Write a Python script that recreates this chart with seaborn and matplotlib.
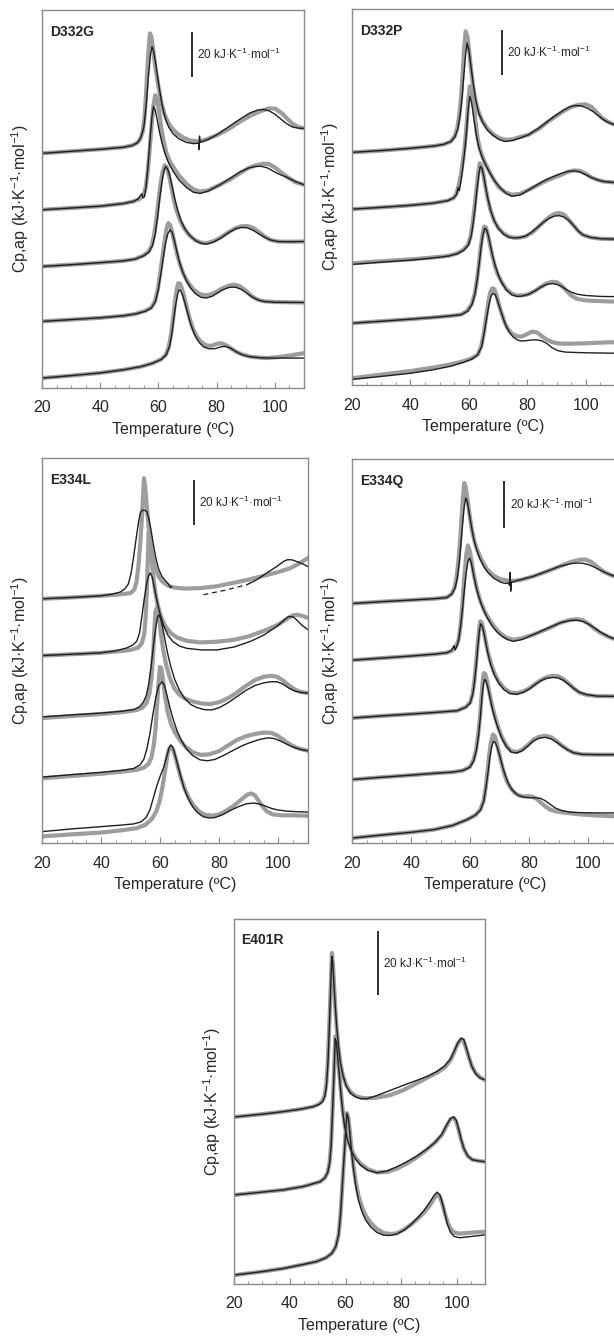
import seaborn as sns
import numpy as np
import pandas as pd
import matplotlib.pyplot as plt
from matplotlib.ticker import MultipleLocator

sns.set_style("white")
plt.rcParams["font.family"] = ["Liberation Sans", "DejaVu Sans"]
plt.rcParams["mathtext.fontset"] = "custom"
plt.rcParams["mathtext.rm"] = "Liberation Sans"
plt.rcParams["mathtext.it"] = "Liberation Sans:italic"
plt.rcParams["mathtext.bf"] = "Liberation Sans:bold"

# %% thermograms: (temperature degC, Cp,ap kJ/K/mol incl. vertical offset)
d332g_data = [
    [(20, 104.3), (30, 105.2), (40, 106.1), (48, 107), (51, 107.8), (52.8, 109), (53.8, 110.8), (54.6, 114), (55.2, 120), (55.7, 130), (56.2, 142), (56.7, 152), (57.1, 157.6), (57.6, 156), (58.2, 150), (59, 142), (60, 134), (61, 127), (62, 122), (63.3, 118), (64.6, 115.5), (66.5, 113), (68.5, 111.3), (71, 110), (73.5, 109.6), (76, 110.2), (80, 112.3), (84, 115), (88, 118.4), (92, 121.3), (95, 123), (98, 124.3), (100, 124.2), (102.5, 122), (104.5, 119.3), (106.5, 117), (108.5, 115.8), (110, 115.4)],
    [(20, 79.2), (30, 80), (40, 80.8), (48, 82), (51.4, 82.9), (53.5, 84), (54.8, 85.5), (55.6, 89), (56.3, 96), (57, 106), (57.6, 116), (58.2, 125), (58.9, 130.2), (59.5, 128.5), (60.2, 123), (61, 115.5), (61.7, 110.3), (62.6, 105), (63.8, 101), (65.1, 98.2), (67, 94.5), (69.7, 90.6), (72, 88.3), (74.3, 87.3), (77, 87.8), (81.1, 90.3), (85, 93), (88, 95.5), (91, 97.8), (93.5, 99), (96, 99.7), (98, 99.5), (100, 98), (102, 96), (104, 94), (107, 91.5), (110, 90.3)],
    [(20, 54), (30, 54.8), (40, 55.7), (48, 56.5), (52, 57.3), (55, 59), (56.5, 60.5), (57.6, 63), (58.5, 68), (59.3, 75), (60, 83), (60.7, 90.5), (61.4, 96), (62.2, 99), (62.9, 98), (63.6, 94.5), (64.4, 89.5), (65.2, 84), (66.2, 79), (67.4, 74.5), (68.8, 71), (70.5, 68), (72.5, 65.8), (74.5, 64.6), (76.6, 64.4), (79, 65.3), (81.5, 67), (84, 69.2), (86.5, 71), (88.5, 71.9), (90.5, 72), (92.5, 71.2), (94.5, 69.3), (96.5, 67.3), (98.5, 65.8), (101, 65.1), (105, 65), (110, 65.1)],
    [(20, 29.6), (30, 30.4), (40, 31.2), (48, 32.1), (52, 32.9), (55.5, 34.3), (57.5, 35.7), (58.8, 38.5), (59.8, 44), (60.6, 51), (61.4, 58.5), (62.2, 66), (62.8, 71), (63.4, 73.3), (64.1, 72.2), (64.8, 68.8), (65.6, 64), (66.5, 59), (67.5, 54.5), (68.7, 50.3), (70.2, 46.8), (72, 43.8), (74, 41.8), (76, 41.2), (78, 41.6), (80, 42.8), (82, 44.3), (84, 45.4), (86, 46), (88, 45.2), (90, 43.3), (92, 40.8), (94, 39.3), (96, 38.6), (100, 38.2), (110, 38)],
    [(20, 4.4), (30, 5.5), (40, 6.7), (48, 8.1), (54, 9.5), (58, 11), (61, 12.8), (62.5, 14.7), (63.5, 18), (64.3, 23.5), (65, 30.5), (65.7, 38.5), (66.3, 44), (66.8, 46.6), (67.4, 46.4), (68, 44.5), (68.8, 40.8), (69.7, 36), (70.7, 31), (71.8, 26.5), (73.1, 23), (74.6, 20.5), (76.2, 19), (78, 18.7), (80, 19.6), (81.6, 19.9), (83, 19.2), (84.6, 17.9), (86.5, 16.2), (89, 14.8), (92, 13.8), (97, 13.3), (101, 13.7), (105, 14.4), (110, 15.5)],
]
d332g_fit = [
    [(20, 104.3), (30, 105.2), (40, 106.1), (48, 107), (51, 107.8), (52.8, 109), (54, 111.5), (55, 116), (55.8, 126), (56.6, 139), (57.3, 148.5), (57.8, 151.7), (58.4, 149.5), (59.2, 143), (60.2, 134), (61.2, 126), (62.3, 120), (63.5, 116), (65, 113), (67, 110.8), (69.5, 109.2), (72, 108.6), (73.8, 108.8), (73.9, 106), (74.1, 112), (74.3, 109.2), (77, 110.5), (80, 112.5), (84, 116), (88, 119.5), (91.5, 122.3), (94, 123.5), (96, 123.8), (98, 123.2), (100, 121.7), (102, 119.6), (104, 117.5), (106, 116), (108, 115.5), (110, 115.4)],
    [(20, 79.2), (30, 80), (40, 80.8), (48, 82), (51.4, 82.9), (53, 84), (53.8, 85.5), (54.3, 86.3), (54.7, 84.5), (55.2, 85), (55.8, 90), (56.5, 100), (57.2, 112), (57.8, 121), (58.3, 125), (58.9, 123.5), (59.6, 119), (60.4, 113.5), (61.3, 108.5), (62.3, 104), (63.5, 100), (65.1, 96.2), (67, 92.5), (69.7, 89), (72, 87), (74.3, 86.5), (77, 87.5), (81.1, 90.3), (85, 93.5), (88, 96), (91, 97.8), (93.5, 98.5), (95.5, 98.5), (97.5, 97.8), (99.5, 96.3), (101.5, 95), (104, 93.7), (107, 91.8), (110, 90.3)],
    [(20, 54), (30, 54.8), (40, 55.7), (48, 56.5), (52, 57.3), (55, 58.8), (56.8, 60.5), (58, 63.5), (58.9, 68.5), (59.7, 76), (60.5, 85), (61.3, 92.5), (62, 97), (62.5, 98.4), (63.2, 97.2), (64, 93.8), (64.8, 89), (65.7, 83.5), (66.7, 78.5), (67.8, 74.2), (69.2, 70.5), (71, 67.5), (73, 65.3), (75, 64.2), (76.6, 64), (79, 64.9), (81.5, 66.7), (84, 69), (86.5, 70.8), (88.5, 71.4), (90.5, 71.2), (92.5, 70.1), (94.5, 68.5), (96.5, 67), (98.5, 65.8), (101, 65.1), (105, 65), (110, 65.1)],
    [(20, 29.6), (30, 30.4), (40, 31.2), (48, 32.1), (52, 32.9), (55.5, 34.1), (57.5, 35.5), (59, 38.5), (60, 44), (60.8, 50.5), (61.6, 57.5), (62.4, 64), (63.2, 68.5), (64, 70.3), (64.7, 69.2), (65.4, 66), (66.2, 61.5), (67.1, 56.5), (68.2, 52), (69.5, 48), (71, 44.5), (72.8, 41.8), (74.6, 40.3), (76.5, 40), (78.5, 40.8), (80.5, 42.4), (82.5, 43.9), (84.5, 44.8), (86.5, 44.8), (88.5, 43.8), (90.5, 42), (92.5, 40.2), (94.5, 39), (96.5, 38.4), (100, 38.1), (110, 38)],
    [(20, 4.4), (30, 5.5), (40, 6.7), (48, 8.1), (54, 9.5), (58, 11), (61, 12.7), (62.7, 14.8), (63.8, 18.5), (64.6, 24), (65.3, 31), (66, 37.5), (66.6, 41.8), (67.1, 43.7), (67.7, 43.1), (68.4, 40.8), (69.2, 37.3), (70.2, 32.5), (71.3, 27.5), (72.5, 23.5), (74, 20.2), (75.6, 18.2), (77.5, 17.4), (79.5, 17.5), (81.5, 18.3), (83, 18.5), (84.6, 17.8), (86.5, 16.3), (88.5, 14.9), (91, 14), (95, 13.4), (100, 13.3), (110, 13.3)],
]

d332p_data = [
    [(20, 103.2), (30, 104), (40, 105), (48, 106), (51.5, 106.8), (53.8, 108), (55.2, 110.5), (56, 114), (56.7, 119.5), (57.3, 127), (57.8, 137), (58.3, 148), (58.9, 156.9), (59.5, 154.5), (60.1, 148), (60.7, 140.5), (61.4, 133), (62.2, 126.5), (63.2, 121.5), (64.5, 117.5), (66.2, 114), (68.2, 111.3), (70.5, 109.5), (72.5, 108.8), (75, 109), (78, 110.2), (80.4, 111), (84, 113.7), (87, 116.8), (89.6, 119.1), (92.5, 121.6), (95, 123.3), (97.5, 124.3), (100, 124.5), (102, 123.3), (103.8, 120.8), (105.5, 118.5), (107.5, 116.8), (110, 115.4)],
    [(20, 78), (30, 78.8), (40, 79.7), (48, 80.7), (52.8, 81.8), (54.8, 83), (55.8, 85), (56.5, 88.5), (57.3, 93.5), (58, 100), (58.6, 106), (59.2, 115), (59.8, 126), (60.3, 132.5), (60.9, 131), (61.5, 126), (62.2, 117.5), (62.9, 110), (63.8, 104.5), (65, 100), (66.5, 96), (68.3, 91.5), (70.1, 88), (72.3, 85.6), (74.7, 84.4), (77.5, 84.8), (80, 86.3), (82.7, 88.1), (86, 90.3), (89, 92), (91.9, 93.4), (94, 94.6), (96, 95.2), (98, 95), (100, 93.7), (102, 92), (104, 91), (106, 90.3), (110, 89.8)],
    [(20, 54), (30, 54.9), (40, 55.7), (48, 56.6), (53, 57.3), (56, 58.4), (58.2, 60), (59.7, 62.3), (60.6, 66), (61.3, 72), (62, 79.5), (62.6, 87), (63.2, 94), (63.7, 98.4), (64.3, 97.5), (64.9, 94), (65.6, 88.5), (66.4, 83), (67.4, 77.5), (68.6, 73), (70, 69.8), (71.8, 67.3), (73.5, 65.9), (75.5, 65.3), (77.5, 65.4), (79.3, 65.9), (81.5, 67.5), (83.5, 69.8), (85.5, 72.3), (87.5, 74.5), (89.5, 76), (91, 76.3), (92.5, 75.6), (94.2, 73.3), (96, 70.5), (97.5, 68.2), (99, 66.6), (101.5, 65.5), (105, 64.9), (110, 64.7)],
    [(20, 27.4), (30, 28.3), (40, 29.2), (48, 30), (54, 30.7), (57.4, 31.3), (59.5, 33), (61, 36), (62, 40.5), (62.8, 47), (63.5, 54.5), (64.1, 61.5), (64.7, 67), (65.2, 70.3), (65.8, 70), (66.4, 67.5), (67.1, 63), (67.9, 58), (68.8, 53.3), (69.9, 49), (71.2, 45.7), (72.8, 42.6), (74.7, 40.5), (76.5, 39.7), (78.5, 39.8), (80.4, 40.3), (82.5, 41.6), (84.5, 43.4), (86.5, 45), (88.5, 45.8), (90.2, 45.5), (91.8, 44), (93.4, 41.8), (95, 39.7), (97, 38.2), (100, 37.5), (105, 37.2), (110, 37)],
    [(20, 3), (30, 4.6), (40, 6.2), (48, 7.8), (54, 9.2), (58, 10.5), (61, 11.8), (63, 13.5), (64.2, 17), (65.1, 23), (65.9, 30), (66.6, 36.5), (67.3, 41), (68, 42.9), (68.7, 42.5), (69.4, 40), (70.2, 36), (71.2, 31.8), (72.3, 27.5), (73.5, 24.5), (75, 22.5), (76.6, 21.6), (78.1, 21.5), (79.8, 22.5), (81.6, 23.7), (83.3, 23.3), (85, 21.6), (86.8, 20), (88.5, 19), (91, 18.4), (95, 18.3), (100, 18.5), (105, 18.8), (110, 19)],
]
d332p_fit = [
    [(20, 103.2), (30, 104), (40, 105), (48, 106), (51.5, 106.8), (53.8, 108), (55.2, 110), (56.2, 113.5), (57, 119.5), (57.7, 128), (58.3, 138), (58.9, 147), (59.4, 151.7), (60, 148.5), (60.7, 141.5), (61.5, 133.5), (62.4, 126), (63.4, 120.5), (64.7, 116.5), (66.4, 113), (68.5, 110.5), (70.5, 108.8), (72.4, 108), (75, 108.5), (78, 109.8), (80.4, 111), (84, 114), (87, 117), (89.6, 119.5), (92.5, 122), (94.5, 123.4), (96.5, 124), (98.5, 123.8), (100.5, 122.8), (102.5, 121.3), (104.5, 119.3), (106.5, 117.3), (108.5, 116), (110, 115.4)],
    [(20, 78), (30, 78.8), (40, 79.7), (48, 80.7), (52.8, 81.8), (54.8, 83), (55.8, 84.5), (56.3, 87.5), (56.7, 86.2), (57.3, 90.5), (58, 97.5), (58.6, 104), (59.2, 112.5), (59.8, 122.5), (60.3, 128), (60.9, 125.5), (61.6, 119), (62.4, 112), (63.3, 106), (64.4, 101.5), (65.6, 98), (67.2, 94), (69, 90.2), (70.8, 87.3), (72.8, 85), (74.7, 83.7), (77.5, 84.3), (80, 86.2), (82.7, 88.3), (86, 90.8), (89, 92.5), (91.9, 94), (94, 94.8), (96, 95), (98, 94.5), (100, 93.3), (102, 92), (104, 91), (106, 90.3), (110, 89.8)],
    [(20, 53.5), (30, 54.5), (40, 55.4), (48, 56.4), (53, 57.2), (56, 58.2), (58.2, 59.8), (59.8, 62), (60.8, 66), (61.5, 72), (62.2, 79.5), (62.8, 87), (63.4, 93.5), (63.9, 97), (64.5, 96), (65.1, 92.5), (65.8, 87.3), (66.6, 82), (67.6, 76.8), (68.8, 72.5), (70.2, 69.3), (72, 66.8), (73.8, 65.5), (75.8, 65.2), (77.7, 65.5), (79.5, 66.1), (81.5, 67.8), (83.5, 70), (85.5, 72.2), (87.5, 74), (89.5, 75), (91, 75.1), (92.5, 74.5), (94.2, 73), (96, 70.5), (97.5, 68.2), (99, 66.6), (101.5, 65.5), (105, 64.9), (110, 64.7)],
    [(20, 27.4), (30, 28.3), (40, 29.2), (48, 30), (54, 30.7), (57.4, 31.2), (59.6, 32.8), (61.1, 35.8), (62.1, 40.5), (62.9, 47), (63.6, 54.5), (64.2, 61.5), (64.8, 66.5), (65.4, 69.5), (66, 69), (66.6, 66.5), (67.3, 62.3), (68.1, 57.5), (69, 53), (70, 49), (71.2, 45.5), (72.8, 42.2), (74.7, 40), (76.5, 39.3), (78.5, 39.5), (80.4, 40.2), (82.5, 41.7), (84.5, 43.3), (86.5, 44.6), (88.5, 45), (90.2, 44.6), (91.8, 43.6), (93.4, 42.3), (95, 41.2), (97, 40.3), (100, 39.7), (105, 39.3), (110, 39.2)],
    [(20, 2.5), (30, 3.8), (40, 5.2), (48, 6.8), (54, 8.4), (58, 10), (61, 11.5), (63, 13.3), (64.4, 17.2), (65.3, 23.5), (66.1, 30), (66.9, 35.8), (67.6, 39.5), (68.3, 40.7), (69, 40), (69.7, 37.8), (70.5, 34.5), (71.5, 30.5), (72.6, 26.5), (73.8, 23.5), (75.2, 21.2), (76.7, 19.9), (78.1, 19.5), (79.8, 19.7), (81.6, 20), (83.3, 20), (85, 19.6), (86.8, 18.3), (88.5, 16.5), (90.5, 15.2), (93, 14.6), (97, 14.4), (100, 14.3), (110, 14.1)],
]

e334l_data = [
    [(20, 107.5), (30, 108.1), (39.7, 108.8), (46, 109.4), (49.9, 110), (51.2, 111.5), (52, 115), (52.7, 123), (53.3, 133), (53.8, 143), (54.2, 153), (54.5, 160.6), (54.9, 157), (55.5, 147.5), (56.1, 139), (56.8, 131), (57.6, 125), (58.5, 120.3), (59.6, 117), (60.8, 115), (62.5, 113.4), (64.5, 112.5), (68, 112), (73.5, 112.2), (79, 113), (84.7, 114.5), (90, 116), (96.1, 118), (100, 119.3), (104, 121), (107, 123), (110, 125.5)],
    [(20, 82.5), (30, 83.1), (39.7, 83.7), (46, 84.4), (50, 85), (52.5, 86), (53.8, 88), (54.6, 92), (55.1, 100), (55.5, 112), (55.8, 125), (56.1, 137), (56.5, 133), (57, 126), (57.6, 118), (58.3, 110.5), (59.2, 104.5), (60.3, 99.5), (61.7, 95.5), (63.5, 92.5), (65.6, 90.5), (69, 89), (73.5, 88.3), (79, 88.6), (84.7, 89.4), (90, 91), (96.1, 93.9), (100, 96.2), (103, 98.8), (105, 100.3), (106.5, 100.5), (108, 100), (110, 99.1)],
    [(20, 55), (30, 55.9), (40, 56.8), (47, 57.6), (52, 58.5), (54, 59.6), (55.3, 61.5), (56.3, 65.5), (57, 72), (57.6, 83), (58, 94), (58.4, 102), (59, 104), (59.6, 99), (60.2, 92.5), (61, 85), (62, 78.5), (63.3, 72.5), (64.8, 68), (66.5, 65.3), (68.5, 63.5), (71, 62.3), (74, 61.4), (77, 61.2), (80, 62), (83, 63.8), (86, 66.3), (89, 69.2), (92, 71.7), (95, 73.2), (97.5, 73.6), (99.5, 73.2), (101.5, 71.6), (103.5, 69.4), (105.5, 67.6), (107.5, 66.5), (110, 66)],
    [(20, 28.5), (30, 29.5), (40, 30.5), (47, 31.4), (52, 32.2), (54.5, 33.2), (56, 34.8), (57, 37.5), (57.8, 43), (58.4, 50), (58.9, 60), (59.4, 70), (59.9, 77.5), (60.4, 77), (61, 71), (61.7, 64), (62.5, 58), (63.5, 53), (64.8, 49), (66.5, 45.5), (68.5, 42.4), (71, 40), (73.5, 38.8), (76.5, 39), (80, 40.5), (83, 43), (86, 45.4), (89, 47), (92, 48), (95, 48.6), (97.5, 48.5), (99.5, 47.4), (101.5, 45.6), (103.5, 43.7), (106, 42), (108, 41.2), (110, 40.6)],
    [(20, 2.9), (30, 3.8), (40, 4.6), (47, 5.6), (52, 6.5), (55, 8), (57.2, 10.6), (58.7, 14), (59.8, 18.5), (60.6, 23.5), (61.3, 29), (61.9, 34), (62.4, 38.5), (63, 41.5), (63.7, 42.2), (64.4, 41), (65.2, 37.5), (66.1, 33), (67.1, 28.3), (68.3, 23.8), (69.7, 19.8), (71.3, 16.5), (73, 14), (75, 12.5), (77.5, 12), (80, 12.6), (82.5, 14.3), (85, 16.5), (87.5, 19.2), (89.5, 21.3), (90.8, 21.8), (92, 21), (93.2, 18.8), (94.5, 16.2), (96, 14), (98, 12.6), (101, 12.2), (105, 12.2), (110, 12)],
]
e334l_fit = [
    [(20, 107.5), (30, 108.1), (39.7, 108.8), (44, 109.6), (46.5, 110.5), (48, 111.8), (49.2, 114), (50.1, 118.5), (51, 126), (51.9, 134.5), (52.7, 141.5), (53.3, 145.5), (54, 146.5), (54.8, 146.5), (55.5, 145.8), (56.1, 143), (56.8, 138.5), (57.6, 132), (58.5, 125.5), (59.5, 120.5), (60.6, 117.3), (61.7, 115.6), (62.8, 114), (63.4, 112.5), (63.9, 112.9)],
    [(89.3, 113.7), (92.5, 115.8), (96.1, 118.9), (99.5, 121.8), (101.8, 124), (103, 124.7), (104.5, 124.7), (106, 124), (108, 123), (110, 121.7)],
    [(20, 82.5), (30, 83.1), (39.7, 83.7), (45, 84.6), (48.7, 85.9), (50.8, 87.2), (52.1, 88.9), (53, 92.5), (53.8, 99.7), (54.6, 107.5), (55.4, 114), (56, 117.5), (56.6, 118.9), (57.3, 117), (58.1, 112), (59, 106), (60, 100.5), (61.2, 95.5), (62.6, 91.5), (64.3, 88.7), (66.5, 86.7), (69, 85.7), (74, 85), (79.2, 85), (85, 86.3), (90.4, 88.7), (95, 91.5), (99.4, 95.3), (101.8, 98), (103.4, 99.7), (105, 99.5), (106.5, 97.8), (108, 95.8), (110, 93.9)],
    [(20, 55.5), (30, 56.4), (40, 57.2), (47, 58), (51, 58.7), (53, 60), (54.3, 62), (55.3, 65), (56.1, 70), (56.9, 77.5), (57.7, 87), (58.5, 95), (59.1, 99.5), (59.5, 100.5), (60.1, 99), (60.8, 95), (61.6, 89.5), (62.5, 83.5), (63.6, 77.5), (64.9, 72), (66.4, 67.5), (68.2, 63.8), (70.3, 61), (72.5, 59.6), (75, 58.7), (77.5, 58.6), (80, 59.6), (83, 61.8), (86, 64.5), (89, 67.2), (92, 69.3), (95, 70.5), (97.5, 71), (99.5, 71), (101.5, 70), (103.5, 68.2), (105.5, 66.9), (107.5, 66.3), (110, 66)],
    [(20, 29), (30, 30.1), (40, 31.1), (47, 32), (51, 32.8), (53.2, 34.4), (54.5, 37), (55.5, 41.5), (56.5, 48), (57.5, 56.5), (58.5, 64), (59.5, 69.3), (60.6, 71), (61.4, 69.5), (62.3, 65), (63.3, 59.5), (64.5, 54), (65.8, 49), (67.3, 44.8), (69, 41.2), (71, 38.5), (73.5, 36.6), (76, 36.2), (78.5, 36.8), (81.5, 38.6), (85, 41), (88, 43), (91, 44.5), (94, 45.7), (96.5, 46.3), (98.5, 46), (100.5, 45), (102.8, 43.5), (105, 42.2), (107.5, 41.2), (110, 40.6)],
    [(20, 5), (30, 6.2), (40, 7.2), (47, 7.9), (51, 8.4), (53.5, 9.3), (55.2, 11.2), (56.5, 14.5), (57.6, 19.5), (58.8, 25), (60, 29.5), (61.2, 33.5), (62.3, 38.5), (63, 42), (63.6, 43.2), (64.3, 42), (65.1, 38.5), (66, 34), (67, 29), (68.1, 24), (69.4, 19.8), (70.8, 16.3), (72.5, 13.5), (74.5, 11.6), (76.5, 11), (78.5, 11.2), (81, 12.4), (83.7, 14.3), (86.5, 16), (89, 17.2), (91.5, 17.6), (93.5, 17.2), (95.5, 16.3), (97.5, 15.3), (99.5, 14.6), (103, 14), (106, 13.8), (110, 13.6)],
]
e334l_fit_dashed = [(74.6, 109.3), (82, 111.3), (89.3, 113.7)]

e334q_data = [
    [(20, 102.7), (30, 103.5), (40, 104.2), (48, 104.8), (52.1, 105.3), (53.7, 106.8), (54.7, 109.5), (55.4, 114), (56, 121), (56.6, 130.1), (57.1, 140), (57.6, 149), (58, 154.4), (58.5, 152.5), (59.1, 147), (59.8, 140.5), (60.6, 134), (61.5, 129), (62.5, 125.3), (63.8, 121.5), (65.6, 117.5), (67.8, 114.8), (70.1, 113.2), (73.5, 112.3), (77, 112.8), (81.4, 114.4), (86, 116.5), (90.4, 118.7), (94, 120.5), (97, 121.5), (99, 121.6), (101, 120.5), (103, 118.5), (105, 116.5), (107.5, 115), (110, 113.8)],
    [(20, 78.4), (30, 79.3), (40, 80.2), (48, 81), (52.1, 81.6), (54, 82.6), (55.3, 84.5), (56.1, 87.5), (56.7, 93), (57.2, 100), (57.7, 108.7), (58.2, 117), (58.7, 124), (59.2, 127.6), (59.8, 125.5), (60.5, 120.5), (61.3, 114.5), (62.3, 108.7), (63.5, 103.5), (65, 99), (66.6, 95.5), (68.4, 92.3), (70.1, 90), (72.3, 88), (74.6, 87.2), (77.5, 87.8), (81.4, 89.4), (86, 91.8), (90.4, 94.4), (93.5, 95.6), (96, 96), (98, 95.6), (100, 94), (102, 92), (104, 90.2), (107, 88.3), (110, 87)],
    [(20, 53.6), (30, 54.5), (40, 55.3), (48, 56), (55.5, 56.7), (58.5, 58.3), (60, 60.3), (60.8, 64), (61.4, 69.5), (62, 77.5), (62.5, 85), (63, 91.5), (63.4, 95.1), (63.9, 94.5), (64.5, 91.5), (65.2, 86.8), (66, 81.8), (67, 77), (68.2, 72.8), (69.6, 69.3), (71.4, 66.5), (73.5, 64.6), (75.8, 64.2), (78, 65), (80, 66.3), (82, 68.2), (84, 70), (86, 71.2), (88, 71.7), (89.8, 71.5), (91.5, 70.3), (93.3, 68.4), (95, 66.4), (97, 64.5), (99.5, 63.5), (103, 63), (110, 62.9)],
    [(20, 27.2), (30, 28.2), (40, 29.1), (48, 29.9), (54, 30.4), (57.5, 31.1), (59.8, 32.6), (61.1, 35.5), (62, 40), (62.7, 46.5), (63.3, 54), (63.8, 62.5), (64.2, 69), (64.6, 72.9), (65.1, 72.4), (65.7, 69.5), (66.4, 65), (67.3, 59.5), (68.3, 54.5), (69.5, 49.5), (70.8, 45.2), (72.2, 41.8), (73.8, 39.5), (75.7, 39), (77.6, 40), (79.5, 42), (81.4, 44.3), (83.4, 45.6), (85.5, 46), (87.5, 45.3), (89.3, 43.6), (91, 41.8), (93, 40), (95, 38.7), (98, 38), (103, 37.9), (110, 37.9)],
    [(20, 2.1), (30, 3.4), (40, 4.6), (47.6, 5.7), (54, 7.5), (58.9, 10), (61.8, 12), (63.4, 14.3), (64.5, 18), (65.2, 23.5), (65.8, 30), (66.4, 37.5), (67, 43), (67.7, 46.5), (68.3, 45.8), (68.9, 43.3), (69.6, 39.5), (70.4, 35), (71.3, 30.5), (72.4, 26.5), (73.6, 23.7), (75, 21.6), (76.5, 20.4), (78, 20), (79.5, 20.1), (81, 19.9), (82.4, 19), (84, 17.2), (85.6, 15.5), (87.3, 14.2), (89.5, 13.4), (92.7, 12.9), (97, 12.3), (103, 11.8), (110, 11.4)],
]
e334q_fit = [
    [(20, 102.7), (30, 103.5), (40, 104.2), (48, 104.8), (52.1, 105.3), (53.8, 106.8), (54.9, 109.5), (55.6, 113.5), (56.3, 120.5), (56.9, 129), (57.5, 138), (58, 144.5), (58.5, 148), (59, 146.5), (59.6, 142), (60.3, 136.5), (61.1, 131), (62, 126.5), (63.1, 122.5), (64.4, 119), (66, 116), (68, 113.5), (70.1, 112), (71.8, 111.3), (72.8, 111.6), (73.3, 110.5), (73.5, 116), (73.7, 108), (73.9, 111.8), (76, 112.6), (81.4, 114.4), (86, 116.6), (90.4, 118.7), (94, 119.8), (96, 120.1), (98, 120), (100, 119.4), (102, 118.3), (104, 117), (106.5, 115.5), (110, 113.8)],
    [(20, 78.4), (30, 79.3), (40, 80.2), (48, 81), (52.1, 81.6), (53.5, 82.4), (54.2, 83.8), (54.5, 84.7), (54.9, 82.8), (55.5, 84.5), (56.1, 87), (56.8, 93.5), (57.4, 100.5), (58, 108.5), (58.6, 115.5), (59.2, 120.5), (59.7, 122.3), (60.3, 120.5), (61, 116), (61.8, 111), (62.8, 106), (64, 101.5), (65.6, 97), (67.3, 93.3), (69, 90.6), (70.8, 88.6), (72.7, 87.2), (74.6, 86.5), (77.5, 87.3), (81.4, 89.4), (86, 92), (90.4, 94.4), (93.5, 95.4), (96, 95.6), (98, 95.1), (100, 93.9), (102, 92.3), (104, 90.5), (107, 88.4), (110, 87)],
    [(20, 53.6), (30, 54.5), (40, 55.3), (48, 56), (55.5, 56.7), (58.5, 58.2), (60, 60.1), (60.9, 64), (61.5, 69.5), (62.1, 77), (62.6, 84.5), (63.1, 90.8), (63.5, 94), (64, 93.3), (64.6, 90.3), (65.3, 85.6), (66.1, 80.6), (67.1, 75.8), (68.3, 71.8), (69.7, 68.5), (71.4, 65.8), (73.5, 64.1), (75.8, 63.8), (78, 64.7), (80, 66.1), (82, 68), (84, 69.7), (86, 70.7), (88, 71), (89.8, 70.8), (91.5, 69.8), (93.3, 68.1), (95, 66.3), (97, 64.6), (99.5, 63.6), (103, 63), (110, 62.9)],
    [(20, 27.2), (30, 28.2), (40, 29.1), (48, 29.9), (54, 30.4), (57.5, 31.1), (59.9, 32.5), (61.2, 35.3), (62.1, 39.8), (62.8, 46), (63.4, 53.5), (63.9, 61.5), (64.4, 67.5), (64.8, 70.1), (65.3, 69.6), (65.9, 67), (66.6, 62.8), (67.4, 58), (68.4, 53.2), (69.6, 48.5), (70.9, 44.4), (72.3, 41.2), (73.9, 39), (75.7, 38.6), (77.6, 39.6), (79.5, 41.6), (81.4, 43.8), (83.4, 45), (85.5, 45.3), (87.5, 44.6), (89.3, 43.2), (91, 41.6), (93, 39.9), (95, 38.7), (98, 38), (103, 37.9), (110, 37.9)],
    [(20, 2.1), (30, 3.4), (40, 4.6), (47.6, 5.7), (54, 7.5), (58.9, 10), (61.8, 12), (63.5, 14.2), (64.6, 18), (65.3, 23.5), (66, 30), (66.6, 36.5), (67.3, 41.5), (67.9, 43.6), (68.5, 43), (69.2, 40.8), (70, 37.3), (70.9, 33), (71.9, 28.8), (73, 25.3), (74.3, 22.6), (75.8, 20.8), (77.4, 19.9), (79, 19.5), (80.5, 19.4), (82, 19.4), (83.7, 19.2), (85.3, 18.2), (87, 16.6), (88.8, 15), (91, 13.9), (94, 13.2), (98, 13), (103, 12.9), (110, 12.9)],
]

e401r_data = [
    [(20, 52.7), (30, 53.6), (37.7, 54.4), (44, 55.2), (48.5, 56), (50.5, 56.8), (51.7, 57.8), (52.5, 59.5), (53.1, 63), (53.6, 69.5), (54, 78), (54.4, 87), (54.8, 97), (55.1, 104.5), (55.5, 101), (55.9, 94), (56.3, 87.5), (56.8, 81), (57.4, 75), (58.1, 70), (59, 66), (60.2, 62.8), (61.7, 60.6), (63.5, 59.4), (65.5, 58.8), (67.7, 58.6), (71, 58.8), (76, 59.6), (81, 61.3), (85.6, 63.4), (89.5, 65.2), (92.8, 66.7), (95.5, 68.3), (97.6, 70.6), (99, 73.3), (100.2, 75.8), (101.3, 77.2), (102.2, 77), (103.1, 74.8), (104.2, 71.6), (105.3, 68.7), (106.6, 66.6), (108.2, 65.2), (110, 64.4)],
    [(20, 28.1), (30, 29), (37.7, 29.7), (45, 30.8), (50.9, 32.3), (52.6, 33.5), (53.6, 35.3), (54.3, 38.5), (54.8, 44), (55.2, 52), (55.6, 61), (56, 70.5), (56.3, 78.1), (56.7, 76.8), (57.1, 73), (57.6, 68), (58.2, 62), (58.9, 55.5), (59.7, 50), (60.7, 46), (61.9, 42.8), (63.5, 40), (65.3, 38), (68, 36.2), (71.3, 35.2), (75, 35.4), (78.4, 36.4), (82, 38), (85.6, 40), (89, 42.3), (92, 44.6), (94.5, 47), (96.3, 50), (97.6, 52), (98.7, 52.5), (99.6, 51.5), (100.5, 48.8), (101.4, 45.6), (102.5, 42.5), (103.8, 40.4), (105.5, 39.2), (108, 38.8), (110, 38.6)],
    [(20, 2.8), (30, 3.9), (37.7, 4.9), (45, 6.2), (49.7, 7.1), (53, 8.3), (55.1, 9.7), (56.5, 11.8), (57.5, 15.5), (58.2, 22), (58.8, 30.5), (59.4, 39), (60, 47.5), (60.5, 53.9), (61, 52.5), (61.5, 48.5), (62.1, 43), (62.8, 37.5), (63.6, 32.5), (64.6, 28), (65.8, 24.5), (67.2, 21.6), (69, 19.3), (71.2, 17.4), (73.7, 16.1), (76, 15.8), (78.4, 16), (81, 17.2), (83.5, 18.8), (86, 20.7), (88.2, 22.6), (90.2, 24.8), (91.6, 26.8), (92.8, 28.2), (93.8, 27.6), (94.7, 25.3), (95.6, 22.3), (96.6, 19.4), (97.7, 17.3), (99, 16.2), (101, 15.9), (105, 16.2), (110, 16.5)],
]
e401r_fit = [
    [(20, 52.7), (30, 53.6), (37.7, 54.4), (44, 55.2), (48.5, 56), (50.5, 56.7), (51.8, 57.6), (52.6, 59.3), (53.2, 63), (53.7, 70), (54.1, 79), (54.5, 89), (54.8, 97.5), (55.1, 103.4), (55.4, 101.5), (55.8, 95), (56.3, 88), (56.8, 81.5), (57.4, 75.5), (58.1, 70.2), (59, 66), (60.2, 62.6), (61.7, 60.3), (63.5, 59.1), (65.5, 58.5), (67.7, 58.5), (71, 59.4), (76, 61.1), (81, 62.8), (85.6, 64.3), (89.5, 65.6), (92.8, 67.1), (95.5, 68.8), (97.6, 71), (99, 73.6), (100.2, 76), (101.5, 77.6), (102.4, 77.1), (103.3, 74.6), (104.3, 71.4), (105.4, 68.5), (106.7, 66.3), (108.3, 65), (110, 64.4)],
    [(20, 28.1), (30, 29), (37.7, 29.7), (45, 30.8), (50.9, 32.3), (52.6, 33.5), (53.6, 35.2), (54.3, 38.3), (54.8, 43.5), (55.2, 51.5), (55.6, 60.5), (56, 70), (56.3, 77.5), (56.7, 76.3), (57.1, 72.5), (57.6, 67.5), (58.2, 61.5), (58.9, 55), (59.7, 49.5), (60.7, 45.5), (61.9, 42.3), (63.5, 39.6), (65.3, 37.6), (68, 35.9), (71.3, 35.1), (75, 35.7), (78.4, 37), (82, 38.6), (85.6, 40.4), (89, 42.5), (92, 44.6), (94.5, 47.2), (96.3, 50.3), (97.6, 52.2), (98.8, 52.7), (99.7, 51.6), (100.6, 48.7), (101.5, 45.5), (102.6, 42.4), (103.9, 40.3), (105.5, 39.2), (108, 38.8), (110, 38.6)],
    [(20, 2.8), (30, 3.9), (37.7, 4.9), (45, 6.2), (49.7, 7.1), (53, 8.3), (55.1, 9.7), (56.5, 11.8), (57.5, 15.5), (58.2, 22), (58.8, 30.5), (59.4, 39), (60, 47.5), (60.5, 53.9), (61, 52.3), (61.5, 48), (62.1, 42.3), (62.8, 36.5), (63.6, 31.3), (64.6, 26.6), (65.8, 23), (67.2, 20.2), (69, 18), (71.2, 16.3), (73.7, 15.4), (76, 15.3), (78.4, 15.8), (81, 17), (83.5, 18.8), (86, 21), (88.2, 23.3), (90.2, 25.8), (91.6, 27.8), (92.8, 29), (93.8, 28.2), (94.7, 25.6), (95.6, 22.2), (96.6, 18.7), (97.7, 16.2), (99, 15), (101, 14.6), (105, 15), (110, 15.5)],
]

panel_names = ["D332G", "D332P", "E334L", "E334Q", "E401R"]
panel_data = [d332g_data, d332p_data, e334l_data, e334q_data, e401r_data]
panel_fit = [d332g_fit, d332p_fit, e334l_fit, e334q_fit, e401r_fit]
panel_ymax = [168, 166.8, 169.5, 164.7, 115.2]
scale_bar_T = [71.6, 71.2, 71.3, 71.5, 71.7]
scale_bar_base = [138.4, 137.6, 140, 135.1, 91.3]
scale_bar_size = 20
temp_ticks = [20, 40, 60, 80, 100]

# %% layout (pixel boxes: left, top, right, bottom)
W, H = 614, 1336
boxes = [(42, 10, 304, 388), (352, 9, 615, 385), (42, 458, 308, 843),
         (352, 459, 618, 843), (234, 919, 485, 1284)]

data_color = "#9d9d9d"
fit_color = "#1e1e1e"
frame_color = "#8a8a8a"

fig = plt.figure(figsize=(W / 100, H / 100), dpi=100)

axes = []
for (l, t, r, b) in boxes:
    axes.append(fig.add_axes([l / W, 1 - b / H, (r - l) / W, (b - t) / H]))

for i, ax in enumerate(axes):
    for curve in panel_data[i]:
        df = pd.DataFrame(curve, columns=["T", "Cp"])
        sns.lineplot(data=df, x="T", y="Cp", ax=ax, color=data_color, linewidth=3.0,
                     estimator=None, sort=False, solid_joinstyle="round",
                     solid_capstyle="round")
    for curve in panel_fit[i]:
        df = pd.DataFrame(curve, columns=["T", "Cp"])
        sns.lineplot(data=df, x="T", y="Cp", ax=ax, color=fit_color, linewidth=1.0,
                     estimator=None, sort=False)
    if panel_names[i] == "E334L":
        df = pd.DataFrame(e334l_fit_dashed, columns=["T", "Cp"])
        sns.lineplot(data=df, x="T", y="Cp", ax=ax, color=fit_color, linewidth=0.9,
                     linestyle=(0, (4, 3)), estimator=None, sort=False)

    ax.set_xlim(20, 110)
    ax.set_ylim(0, panel_ymax[i])
    ax.set_xticks(temp_ticks)
    ax.set_xticklabels([str(t) for t in temp_ticks], fontsize=11.5)
    ax.xaxis.set_minor_locator(MultipleLocator(5))
    ax.set_yticks([])
    ax.tick_params(axis="x", which="major", direction="in", length=4, width=0.8,
                   color=frame_color, pad=9, bottom=True)
    ax.tick_params(axis="x", which="minor", direction="in", length=2, width=0.6,
                   color=frame_color, bottom=True)
    for sp in ax.spines.values():
        sp.set_visible(True)
        sp.set_color(frame_color)
        sp.set_linewidth(1.0)

    ax.set_xlabel("Temperature (ºC)", fontsize=11.5, labelpad=5)
    ax.set_ylabel("Cp,ap (kJ·K$^{-1}$·mol$^{-1}$)", fontsize=11.5, labelpad=8)

    ax.text(0.03, 0.942, panel_names[i], transform=ax.transAxes, fontsize=10,
            fontweight="bold", ha="left", va="center")

    x0 = scale_bar_T[i]
    y0 = scale_bar_base[i]
    ax.vlines(x0, y0, y0 + scale_bar_size, color=fit_color, linewidth=1.3)
    ax.text(x0 + 1.8, y0 + scale_bar_size / 2, "20 kJ·K$^{-1}$·mol$^{-1}$",
            fontsize=8.5, ha="left", va="center")

fig.savefig("out.png", dpi=100, facecolor="white")
